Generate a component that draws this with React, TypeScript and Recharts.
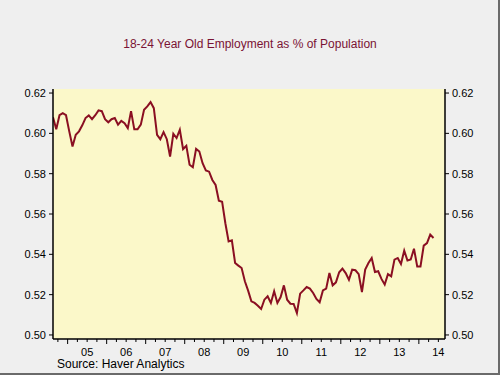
import React from "react";
import {
  LineChart,
  Line,
  XAxis,
  YAxis,
  CartesianGrid,
} from "recharts";

// monthly, Aug 2004 .. May 2014
const START_YEAR = 2004;
const START_MONTH = 8;

const employment: number[] = [
  0.608, 0.602, 0.609, 0.610, 0.609, 0.601, 0.5935, 0.5993, 0.601, 0.604,
  0.6076, 0.6089, 0.607, 0.609, 0.6114, 0.611, 0.607, 0.6055, 0.607, 0.6076,
  0.6043, 0.6062, 0.605, 0.6026, 0.611, 0.602, 0.602, 0.6043, 0.6117, 0.6134,
  0.6155, 0.6125, 0.5993, 0.5971, 0.6006, 0.5971, 0.5885, 0.5998, 0.5977, 0.6018,
  0.5922, 0.5938, 0.5844, 0.5832, 0.5923, 0.591, 0.5852, 0.5816, 0.581, 0.5769,
  0.5744, 0.5666, 0.5661, 0.5554, 0.5464, 0.5469, 0.5357, 0.5344, 0.5332, 0.5266,
  0.522, 0.5167, 0.5159, 0.5145, 0.5129, 0.5175, 0.5192, 0.5159, 0.5217, 0.5159,
  0.5188, 0.5246, 0.5175, 0.5155, 0.5154, 0.5109, 0.5205, 0.5221, 0.5238, 0.523,
  0.5208, 0.5179, 0.5162, 0.5221, 0.523, 0.5307, 0.5246, 0.5261, 0.5311, 0.5329,
  0.5307, 0.5274, 0.5324, 0.5321, 0.5302, 0.5213, 0.5324, 0.5357, 0.5382, 0.5312,
  0.5316, 0.5278, 0.525, 0.5302, 0.5291, 0.5374, 0.5382, 0.5352, 0.5418, 0.5369,
  0.5374, 0.5428, 0.534, 0.534, 0.5443, 0.5456, 0.5498, 0.5481,
];

const yTicks = [0.5, 0.52, 0.54, 0.56, 0.58, 0.6, 0.62];
const yearLabels = ["05", "06", "07", "08", "09", "10", "11", "12", "13", "14"];
const xTicks: number[] = [];
yearLabels.forEach((lbl) => {
  const yr = 2000 + Number(lbl);
  xTicks.push(yr - 0.25, yr, yr + 0.25, yr + 0.5);
});

const data = employment.map((v, i) => {
  const m = START_MONTH - 1 + i;
  return { t: START_YEAR + Math.floor(m / 12) + ((m % 12) + 0.5) / 12, v };
});

const FONT = "Arial, 'Liberation Sans', sans-serif";

const XTick = (props: any) => {
  const { x, y, payload } = props;
  const val: number = payload.value;
  const frac = Math.round((val - Math.floor(val)) * 100) / 100;
  const len = frac === 0 ? 5 : 3;
  return (
    <g>
      <line x1={x} x2={x} y1={y} y2={y + len} stroke="#000" strokeWidth={1} />
      {frac === 0.5 && (
        <text
          x={x}
          y={y + 17}
          textAnchor="middle"
          fontSize={11}
          fontFamily={FONT}
          fill="#000"
        >
          {String(Math.floor(val) % 100).padStart(2, "0")}
        </text>
      )}
    </g>
  );
};

export default function App() {
  return (
    <div
      style={{
        position: "absolute",
        left: 0,
        top: 0,
        width: 500,
        height: 375,
        background: "#efefef",
        boxSizing: "border-box",
        borderRight: "2px solid #6a6a6a",
        borderBottom: "2px solid #6a6a6a",
        fontFamily: FONT,
      }}
    >
      <div
        style={{
          position: "absolute",
          top: 37,
          left: 0,
          width: 500,
          textAlign: "center",
          fontSize: 12,
          color: "#7a1334",
        }}
      >
        18-24 Year Old Employment as % of Population
      </div>
      <div style={{ position: "absolute", left: 0, top: 0 }}>
        <LineChart
          width={500}
          height={375}
          data={data}
          margin={{ top: 89, right: 0, bottom: 0, left: 0 }}
        >
          <CartesianGrid
            fill="#fbf8c9"
            horizontal={false}
            vertical={false}
            stroke="none"
          />
          <XAxis
            dataKey="t"
            type="number"
            domain={[2004.625, 2014.67]}
            ticks={xTicks}
            interval={0}
            height={36}
            tickSize={0}
            tickMargin={0}
            tickLine={false}
            axisLine={{ stroke: "#000", strokeWidth: 1.5 }}
            tick={<XTick />}
            allowDataOverflow
          />
          <XAxis
            xAxisId="top"
            dataKey="t"
            type="number"
            orientation="top"
            domain={[2004.625, 2014.67]}
            height={0}
            tick={false}
            tickLine={false}
            axisLine={{ stroke: "#000", strokeWidth: 1.5 }}
            allowDataOverflow
          />
          <YAxis
            yAxisId="left"
            domain={[0.498, 0.622]}
            ticks={yTicks}
            width={53}
            interval={0}
            tickSize={4}
            tickMargin={3}
            tickLine={{ stroke: "#000" }}
            axisLine={{ stroke: "#000", strokeWidth: 1.5 }}
            tickFormatter={(v: number) => v.toFixed(2)}
            tick={{ fill: "#000", fontSize: 11, fontFamily: FONT }}
            allowDataOverflow
          />
          <YAxis
            yAxisId="right"
            orientation="right"
            domain={[0.498, 0.622]}
            ticks={yTicks}
            width={55}
            interval={0}
            tickSize={4}
            tickMargin={3}
            tickLine={{ stroke: "#000" }}
            axisLine={{ stroke: "#000", strokeWidth: 1.5 }}
            tickFormatter={(v: number) => v.toFixed(2)}
            tick={{ fill: "#000", fontSize: 11, fontFamily: FONT }}
            allowDataOverflow
          />
          <Line
            yAxisId="left"
            dataKey="v"
            type="linear"
            stroke="#8a0f22"
            strokeWidth={2}
            dot={false}
            isAnimationActive={false}
          />
        </LineChart>
      </div>
      <div
        style={{
          position: "absolute",
          left: 57,
          top: 358,
          fontSize: 12,
          lineHeight: "12px",
          color: "#000",
        }}
      >
        Source: Haver Analytics
      </div>
    </div>
  );
}
